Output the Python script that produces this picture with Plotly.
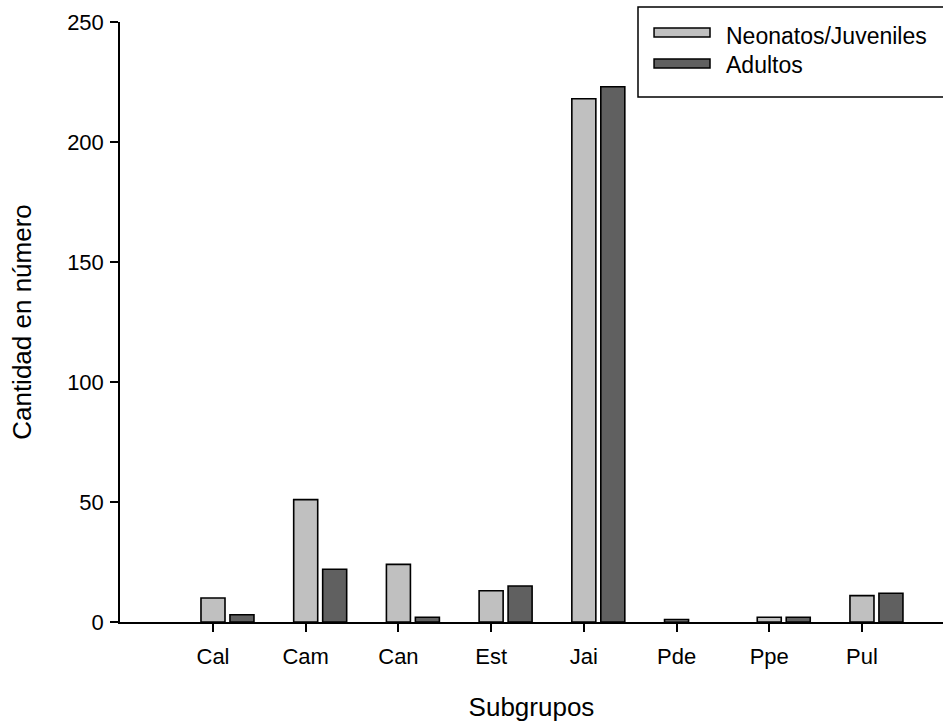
import plotly.graph_objects as go

categories = ["Cal", "Cam", "Can", "Est", "Jai", "Pde", "Ppe", "Pul"]
neonatos = [10, 51, 24, 13, 218, 1, 2, 11]
adultos = [3, 22, 2, 15, 223, 0, 2, 12]
series_names = ["Neonatos/Juveniles", "Adultos"]
series_colors = ["#c0c0c0", "#606060"]
y_ticks = [0, 50, 100, 150, 200, 250]

FONT = "Arial, 'Liberation Sans', sans-serif"
xpos = list(range(len(categories)))
bar_w = 0.259


def outline_widths(vals):
    # zero-height bars draw no outline, as in the reference
    return [1.6 if v > 0 else 0 for v in vals]


fig = go.Figure()
fig.add_trace(go.Bar(
    x=xpos, y=neonatos, name=series_names[0], width=bar_w, offset=-bar_w / 2,
    marker=dict(color=series_colors[0],
                line=dict(color="black", width=outline_widths(neonatos))),
    showlegend=False,
))
fig.add_trace(go.Bar(
    x=xpos, y=adultos, name=series_names[1], width=bar_w, offset=0.183,
    marker=dict(color=series_colors[1],
                line=dict(color="black", width=outline_widths(adultos))),
    showlegend=False,
))

# custom legend (box, swatches, labels)
fig.add_shape(type="rect", xref="paper", yref="paper", x0=0.6294, x1=1.02,
              y0=0.875, y1=1.025, line=dict(color="black", width=1.5),
              fillcolor="white", layer="above")
sw = [(0.99, 0.975), (0.9383, 0.9233)]
ty = [0.9767, 0.9283]
for i in range(2):
    fig.add_shape(type="rect", xref="paper", yref="paper", x0=0.6489, x1=0.7169,
                  y0=sw[i][1], y1=sw[i][0], line=dict(color="black", width=1.5),
                  fillcolor=series_colors[i], layer="above")
    fig.add_annotation(xref="paper", yref="paper", x=0.7339, y=ty[i],
                       xanchor="left", yanchor="middle", text=series_names[i],
                       showarrow=False, font=dict(size=23, color="black", family=FONT))

fig.update_layout(
    width=943, height=723,
    margin=dict(l=120, r=0, t=22, b=101),
    plot_bgcolor="white", paper_bgcolor="white",
    barmode="overlay",
    font=dict(family=FONT, size=22, color="black"),
)
fig.update_xaxes(
    range=[-1.003, 7.874], tickmode="array", tickvals=xpos, ticktext=categories,
    showline=True, linecolor="black", linewidth=1.5, showgrid=False, zeroline=False,
    ticks="outside", ticklen=8, tickwidth=1.5, tickcolor="black",
    tickfont=dict(size=22), ticklabelstandoff=6,
    title=dict(text="Subgrupos", font=dict(size=26), standoff=30),
)
fig.update_yaxes(
    range=[0, 250], tickmode="array", tickvals=y_ticks,
    showline=True, linecolor="black", linewidth=1.5, showgrid=False, zeroline=False,
    ticks="outside", ticklen=8, tickwidth=1.5, tickcolor="black",
    tickfont=dict(size=22), ticklabelstandoff=2,
    title=dict(text="Cantidad en número", font=dict(size=26), standoff=28),
)

fig.write_html("out.html")
